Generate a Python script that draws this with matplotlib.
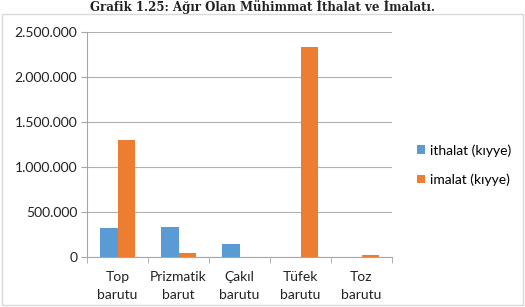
import matplotlib
matplotlib.use("Agg")
import matplotlib.pyplot as plt
import numpy as np
from matplotlib.patches import Rectangle
from matplotlib.ticker import FuncFormatter

categories = ["Top\nbarutu", "Prizmatik\nbarut", "Çakıl\nbarutu", "Tüfek\nbarutu", "Toz\nbarutu"]
ithalat = [325000, 335000, 150000, 0, 0]
imalat = [1305000, 40000, 5000, 2330000, 20000]
series_names = ["ithalat (kıyye)", "imalat (kıyye)"]
yticks = [0, 500000, 1000000, 1500000, 2000000, 2500000]
title = "Grafik 1.25: Ağır Olan Mühimmat İthalat ve İmalatı."

plt.rcParams['font.family'] = ['Lato', 'DejaVu Sans']

fig = plt.figure(figsize=(5.25, 3.07), dpi=100)
fig.patches.append(Rectangle((2/525, 2/307), 521/525, 291/307, transform=fig.transFigure,
                             fill=False, edgecolor="#D9D9D9", linewidth=1.0))
fig.text(0.5, 1.0 - 6.5/307, title, ha="center", va="center", fontsize=8.5,
         family="DejaVu Serif", fontweight="bold", color="#222222")

ax = fig.add_axes([87/525, 1 - 257/307, 305/525, 225/307])
x = np.arange(len(categories))
w = 0.29
ax.bar(x - w/2, ithalat, w, color="#5B9BD5", label=series_names[0], zorder=3)
ax.bar(x + w/2, imalat, w, color="#ED7D31", label=series_names[1], zorder=3)

ax.set_xlim(-0.5, len(categories) - 0.5)
ax.set_ylim(0, 2500000)
ax.set_yticks(yticks)
ax.yaxis.set_major_formatter(FuncFormatter(lambda v, p: f"{int(v):,}".replace(",", ".")))
ax.grid(axis="y", color="#B0B0B0", linewidth=0.8, zorder=0)
ax.set_xticks(x)
ax.set_xticklabels(categories, fontsize=10, linespacing=1.6)
ax.set_xticks(np.arange(-0.5, len(categories)), minor=True)
ax.tick_params(axis="x", which="major", length=0, pad=10)
ax.tick_params(axis="x", which="minor", length=4, color="#A6A6A6")
ax.tick_params(axis="y", length=4, color="#A6A6A6", labelsize=10, pad=3)
for s in ["top", "right"]:
    ax.spines[s].set_visible(False)
ax.spines["left"].set_color("#A6A6A6")
ax.spines["bottom"].set_color("#A6A6A6")
for lbl in ax.get_xticklabels() + ax.get_yticklabels():
    lbl.set_color("#222222")

fig.legend(loc="center left", bbox_to_anchor=(404/525, 1 - 165/307), frameon=False,
           fontsize=10, handlelength=0.6, handleheight=0.6, handletextpad=0.4,
           labelspacing=1.2)

fig.savefig("out.png", dpi=100)
